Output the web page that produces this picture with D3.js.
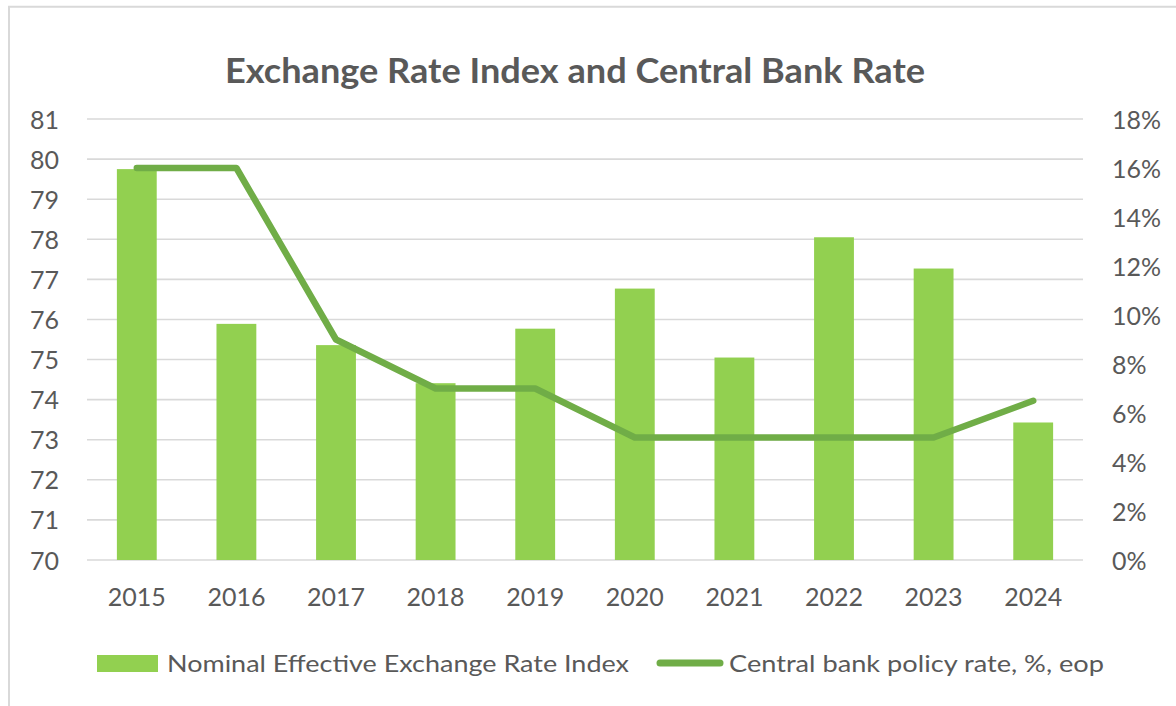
<!DOCTYPE html>
<html>
<head>
<meta charset="utf-8">
<script src="https://cdn.jsdelivr.net/npm/d3@7"></script>
<style>
  html, body { margin: 0; padding: 0; background: #ffffff; }
  svg { display: block; }
  text { font-family: Lato, "Open Sans", sans-serif; fill: #595959; }
</style>
</head>
<body>
<svg id="chart" width="1176" height="706"></svg>
<script>
// Yearly categories
const years = ["2015", "2016", "2017", "2018", "2019", "2020", "2021", "2022", "2023", "2024"];
// Nominal effective exchange rate index (left axis)
const neerIndex = [79.75, 75.89, 75.36, 74.41, 75.77, 76.77, 75.05, 78.05, 77.27, 73.43];
// Central bank policy rate, % end of period (right axis)
const policyRate = [16, 16, 9, 7, 7, 5, 5, 5, 5, 6.5];
// Axis ticks
const leftTicks = [70, 71, 72, 73, 74, 75, 76, 77, 78, 79, 80, 81];
const rightTicks = [0, 2, 4, 6, 8, 10, 12, 14, 16, 18];

const title = "Exchange Rate Index and Central Bank Rate";
const barLabel = "Nominal Effective Exchange Rate Index";
const lineLabel = "Central bank policy rate, %, eop";

const barColor = "#92D050";
const lineColor = "#70AD47";
const gridColor = "#D9D9D9";

const svg = d3.select("#chart");

// outer frame (only the top and left edges fall inside the view)
svg.append("path")
  .attr("d", "M9,712V6.8H1182")
  .attr("fill", "none")
  .attr("stroke", gridColor)
  .attr("stroke-width", 2);

const plot = { left: 87, right: 1083, top: 119, bottom: 560 };

const x = d3.scaleBand()
  .domain(years)
  .range([plot.left, plot.right])
  .paddingInner(0.6)
  .paddingOuter(0.3);

const yLeft = d3.scaleLinear().domain([70, 81]).range([plot.bottom, plot.top]);
const yRight = d3.scaleLinear().domain([0, 18]).range([plot.bottom, plot.top]);

// title
svg.append("text")
  .attr("x", 225)
  .attr("y", 83)
  .attr("textLength", 700)
  .attr("lengthAdjust", "spacingAndGlyphs")
  .style("font-size", "34px")
  .style("font-weight", "bold")
  .text(title);

// horizontal gridlines
svg.append("g")
  .selectAll("line")
  .data(leftTicks)
  .join("line")
  .attr("x1", plot.left)
  .attr("x2", plot.right)
  .attr("y1", d => yLeft(d))
  .attr("y2", d => yLeft(d))
  .attr("stroke", gridColor)
  .attr("stroke-width", 1.6);

// left axis labels
const leftAxis = d3.axisLeft(yLeft).tickValues(leftTicks).tickSize(0).tickPadding(0);
svg.append("g")
  .attr("transform", "translate(59,0)")
  .call(leftAxis)
  .call(g => g.select(".domain").remove())
  .call(g => g.selectAll("text")
    .attr("x", 0)
    .attr("dy", "0.36em")
    .style("font-size", "25px")
    .style("font-family", "Lato, 'Open Sans', sans-serif")
    .attr("fill", "#595959"));

// right axis labels
const rightAxis = d3.axisRight(yRight).tickValues(rightTicks).tickSize(0).tickPadding(0)
  .tickFormat(d => d + "%");
svg.append("g")
  .attr("transform", "translate(1112,0)")
  .call(rightAxis)
  .call(g => g.select(".domain").remove())
  .call(g => g.selectAll("text")
    .attr("x", 0)
    .attr("dy", "0.36em")
    .style("font-size", "25px")
    .style("font-family", "Lato, 'Open Sans', sans-serif")
    .attr("fill", "#595959"));

// category axis labels
const bottomAxis = d3.axisBottom(x).tickSize(0).tickPadding(0);
svg.append("g")
  .attr("transform", "translate(0,606)")
  .call(bottomAxis)
  .call(g => g.select(".domain").remove())
  .call(g => g.selectAll("text")
    .attr("y", 0)
    .attr("dy", 0)
    .style("font-size", "25px")
    .style("font-family", "Lato, 'Open Sans', sans-serif")
    .attr("fill", "#595959"));

// bars
svg.append("g")
  .selectAll("rect")
  .data(years.map((yr, i) => ({ yr, v: neerIndex[i] })))
  .join("rect")
  .attr("x", d => x(d.yr))
  .attr("width", x.bandwidth())
  .attr("y", d => yLeft(d.v))
  .attr("height", d => yLeft(70) - yLeft(d.v))
  .attr("fill", barColor);

// policy rate line
const line = d3.line()
  .x(d => x(d.yr) + x.bandwidth() / 2)
  .y(d => yRight(d.v));
svg.append("path")
  .datum(years.map((yr, i) => ({ yr, v: policyRate[i] })))
  .attr("d", line)
  .attr("fill", "none")
  .attr("stroke", lineColor)
  .attr("stroke-width", 6.5)
  .attr("stroke-linecap", "round")
  .attr("stroke-linejoin", "round");

// legend
const legend = svg.append("g");
legend.append("rect")
  .attr("x", 97).attr("y", 655)
  .attr("width", 61).attr("height", 17)
  .attr("fill", barColor);
legend.append("text")
  .attr("x", 167).attr("y", 672)
  .attr("textLength", 462)
  .attr("lengthAdjust", "spacingAndGlyphs")
  .style("font-size", "24px")
  .text(barLabel);
legend.append("line")
  .attr("x1", 660).attr("x2", 720)
  .attr("y1", 663).attr("y2", 663)
  .attr("stroke", lineColor)
  .attr("stroke-width", 7)
  .attr("stroke-linecap", "round");
legend.append("text")
  .attr("x", 729).attr("y", 672)
  .attr("textLength", 375)
  .attr("lengthAdjust", "spacingAndGlyphs")
  .style("font-size", "24px")
  .text(lineLabel);
</script>
</body>
</html>
